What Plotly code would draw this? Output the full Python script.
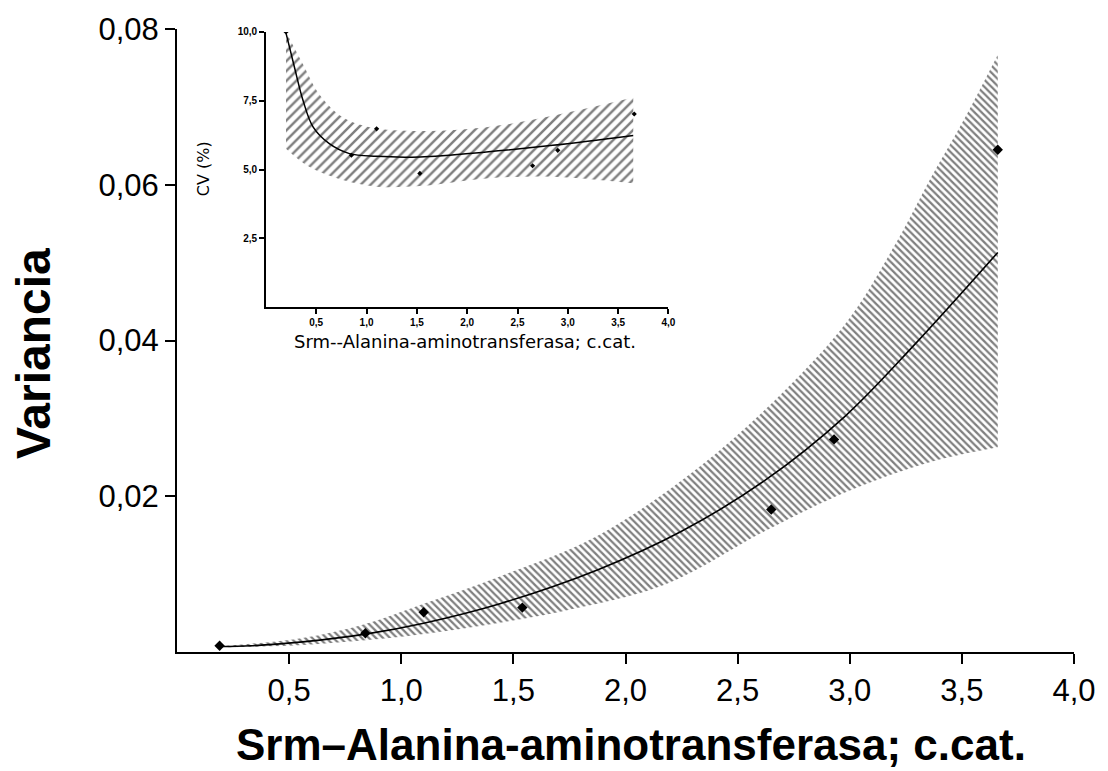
import plotly.graph_objects as go

# ---- main chart data ----
x_pts = [0.19, 0.84, 1.10, 1.54, 2.65, 2.93, 3.66]
var_pts = [0.0008, 0.0024, 0.0051, 0.0057, 0.0183, 0.0273, 0.0645]

fit_x = [0.19, 0.33, 0.56, 0.84, 1.10, 1.44, 1.88, 2.25, 2.62, 2.98, 3.29, 3.66]
fit_y = [0.0007, 0.0008, 0.0013, 0.0023, 0.0037, 0.0062, 0.0106, 0.0155, 0.0220, 0.0303, 0.0395, 0.0513]

up_x = [0.22, 0.56, 0.84, 1.10, 1.44, 1.88, 2.33, 2.70, 2.99, 3.21, 3.36, 3.51, 3.66]
up_y = [0.0008, 0.0018, 0.0036, 0.0062, 0.0097, 0.0150, 0.0238, 0.0333, 0.0425, 0.0527, 0.0608, 0.0684, 0.0767]
lo_x = [0.22, 0.56, 0.84, 1.10, 1.51, 1.73, 2.18, 2.62, 2.99, 3.36, 3.66]
lo_y = [0.0006, 0.0009, 0.0015, 0.0023, 0.0041, 0.0053, 0.0087, 0.0155, 0.0206, 0.0244, 0.0263]

x_ticks = [0.5, 1.0, 1.5, 2.0, 2.5, 3.0, 3.5, 4.0]
y_ticks = [0.02, 0.04, 0.06, 0.08]

# ---- inset data ----
cv_x = [0.20, 0.85, 1.10, 1.53, 2.65, 2.90, 3.66]
cv = [10.0, 5.52, 6.48, 4.86, 5.14, 5.70, 7.02]
cv_fit_x = [0.20, 0.285, 0.37, 0.47, 0.63, 0.83, 1.10, 1.53, 2.19, 2.85, 3.65]
cv_fit = [9.96, 8.70, 7.50, 6.54, 5.94, 5.58, 5.48, 5.46, 5.64, 5.88, 6.24]
cv_up_x = [0.20, 0.37, 0.53, 0.765, 1.03, 1.53, 2.19, 2.85, 3.65]
cv_up = [10.0, 8.82, 7.74, 6.90, 6.54, 6.40, 6.54, 6.96, 7.62]
cv_lo_x = [0.20, 0.43, 0.765, 1.10, 1.53, 2.19, 2.85, 3.65]
cv_lo = [5.76, 5.10, 4.62, 4.38, 4.40, 4.68, 4.74, 4.50]
cv_x_ticks = [0.5, 1.0, 1.5, 2.0, 2.5, 3.0, 3.5, 4.0]
cv_y_ticks = [2.5, 5.0, 7.5, 10.0]

fig = go.Figure()

# main band: lower edge, then upper edge filled to it
fig.add_trace(go.Scatter(x=lo_x, y=lo_y, mode="lines",
                         line=dict(width=0, shape="spline"),
                         xaxis="x", yaxis="y", showlegend=False, hoverinfo="skip"))
fig.add_trace(go.Scatter(
    x=up_x, y=up_y, mode="lines", line=dict(width=0, shape="spline"), fill="tonexty",
    fillcolor="rgba(0,0,0,0)",
    fillpattern=dict(shape="\\", size=5, solidity=0.45, fgcolor="black", bgcolor="white"),
    xaxis="x", yaxis="y", showlegend=False, hoverinfo="skip"))
fig.add_trace(go.Scatter(x=fit_x, y=fit_y, mode="lines",
                         line=dict(color="black", width=1.6, shape="spline"),
                         xaxis="x", yaxis="y", showlegend=False))
fig.add_trace(go.Scatter(x=x_pts, y=var_pts, mode="markers",
                         marker=dict(color="black", size=8, symbol="diamond"),
                         xaxis="x", yaxis="y", showlegend=False))

# inset band
fig.add_trace(go.Scatter(x=cv_lo_x, y=cv_lo, mode="lines",
                         line=dict(width=0, shape="spline"),
                         xaxis="x2", yaxis="y2", showlegend=False, hoverinfo="skip"))
fig.add_trace(go.Scatter(
    x=cv_up_x, y=cv_up, mode="lines", line=dict(width=0, shape="spline"), fill="tonexty",
    fillcolor="rgba(0,0,0,0)",
    fillpattern=dict(shape="/", size=7, solidity=0.35, fgcolor="black", bgcolor="white"),
    xaxis="x2", yaxis="y2", showlegend=False, hoverinfo="skip"))
fig.add_trace(go.Scatter(x=cv_fit_x, y=cv_fit, mode="lines",
                         line=dict(color="black", width=1.5, shape="spline"),
                         xaxis="x2", yaxis="y2", showlegend=False))
fig.add_trace(go.Scatter(x=cv_x, y=cv, mode="markers",
                         marker=dict(color="black", size=4, symbol="diamond"),
                         xaxis="x2", yaxis="y2", showlegend=False))

tickfont_main = dict(family="Liberation Sans", size=31, color="black")
tickfont_inset = dict(family="Liberation Sans", size=10, color="black", weight="bold")

fig.update_layout(
    width=1108, height=771,
    margin=dict(l=177, r=33, t=22, b=119),
    paper_bgcolor="white", plot_bgcolor="white",
    separators=",.",
    xaxis=dict(domain=[0, 1], range=[0, 4], tickvals=x_ticks, tickformat=".1f",
               showgrid=False, zeroline=False, showline=True, linecolor="black", linewidth=2,
               ticks="outside", ticklen=10, tickwidth=2, tickcolor="black",
               tickfont=tickfont_main, anchor="y"),
    yaxis=dict(domain=[0, 1], range=[0, 0.08], tickvals=y_ticks, tickformat=".2f",
               showgrid=False, zeroline=False, showline=True, linecolor="black", linewidth=2,
               ticks="outside", ticklen=10, tickwidth=2, tickcolor="black",
               tickfont=tickfont_main, anchor="x"),
    xaxis2=dict(domain=[0.0991, 0.5479], range=[0, 4], tickvals=cv_x_ticks, tickformat=".1f",
                showgrid=False, zeroline=False, showline=True, linecolor="black", linewidth=1.5,
                ticks="outside", ticklen=5, tickwidth=1.5, tickcolor="black",
                tickfont=tickfont_inset, anchor="y2"),
    yaxis2=dict(domain=[0.5535, 0.9952], range=[0, 10], tickvals=cv_y_ticks, tickformat=".1f",
                showgrid=False, zeroline=False, showline=True, linecolor="black", linewidth=1.5,
                ticks="outside", ticklen=5, tickwidth=1.5, tickcolor="black",
                tickfont=tickfont_inset, anchor="x2"),
    annotations=[
        dict(text="<b>Variancia</b>", xref="paper", yref="paper",
             x=-0.160, y=0.479, xanchor="center", yanchor="middle", textangle=-90, showarrow=False,
             font=dict(family="Liberation Sans", size=48, color="black")),
        dict(text="<b>Srm\u2013Alanina-aminotransferasa; c.cat.</b>", xref="paper", yref="paper",
             x=0.506, y=-0.148, xanchor="center", yanchor="middle", showarrow=False,
             font=dict(family="Liberation Sans", size=44, color="black")),
        dict(text="Srm--Alanina-aminotransferasa; c.cat.", xref="paper", yref="paper",
             x=0.3207, y=0.498, xanchor="center", yanchor="middle", showarrow=False,
             font=dict(family="DejaVu Sans", size=18, color="black")),
        dict(text="CV (%)", xref="paper", yref="paper",
             x=0.0290, y=0.775, xanchor="center", yanchor="middle", textangle=-90, showarrow=False,
             font=dict(family="DejaVu Sans", size=16, color="black")),
    ],
)

fig.write_html("out.html")
